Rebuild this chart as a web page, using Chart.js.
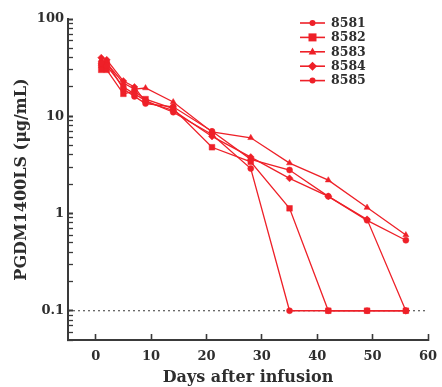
<!DOCTYPE html>
<html><head><meta charset="utf-8">
<script src="https://cdn.jsdelivr.net/npm/chart.js@4.4.0/dist/chart.umd.min.js"></script>
<style>html,body{margin:0;padding:0;background:#fff}#wrap{width:442px;height:387px}</style>
</head><body><div id="wrap"><canvas id="c" width="442" height="387"></canvas></div>
<script>
const days = [1, 2, 5, 7, 9, 14, 21, 28, 35, 42, 49, 56];
const seriesNames = ['8581', '8582', '8583', '8584', '8585'];
const s8581 = [35, 33, 20, 17, 14.5, 11, 6.5, 2.9, 0.1, 0.1, 0.1, 0.1];
const s8582 = [30, 30, 17, 18, 15, 12, 4.8, 3.4, 1.13, 0.1, 0.1, 0.1];
const s8583 = [38, 35, 22, 19, 19.5, 14, 6.9, 6.0, 3.3, 2.2, 1.15, 0.6];
const s8584 = [40, 38, 23, 20, 14, 11.5, 6.2, 3.8, 2.3, 1.5, 0.87, 0.1];
const s8585 = [33, 36, 19, 16, 13.5, 12.5, 7.0, 3.6, 2.8, 1.5, 0.85, 0.53];
const seriesValues = [s8581, s8582, s8583, s8584, s8585];
const lloqValue = 0.1;
const lloqDays = [-5, 60];
const xTickValues = [0, 10, 20, 30, 40, 50, 60];
const yMajorTicks = [0.1, 1, 10, 100];
const yMinorTicks = [0.05, 0.06, 0.07, 0.08, 0.09, 0.2, 0.3, 0.4, 0.5, 0.6, 0.7, 0.8, 0.9,
  2, 3, 4, 5, 6, 7, 8, 9, 20, 30, 40, 50, 60, 70, 80, 90];
const yTickValues = yMajorTicks.concat(yMinorTicks).sort((a, b) => a - b);

const RED = 'rgb(238,32,40)';
const AXIS = '#3a3a3a';
const TEXT = '#2e2e2e';
const FONT = "'DejaVu Serif', 'Liberation Serif', serif";
const pointStyles = ['circle', 'rect', 'triangle', 'rectRot', 'circle'];
const pointRadii = [3, 4, 3.5, 3.5, 3];

const datasets = seriesNames.map((name, i) => ({
  label: name,
  data: days.map((d, j) => ({ x: d, y: seriesValues[i][j] })),
  borderColor: RED,
  backgroundColor: RED,
  borderWidth: 1.3,
  pointStyle: pointStyles[i],
  pointRadius: pointRadii[i],
  pointBackgroundColor: RED,
  pointBorderColor: RED,
  pointBorderWidth: 0.5,
  tension: 0,
  order: 1
}));
datasets.push({
  label: '',
  data: lloqDays.map(d => ({ x: d, y: lloqValue })),
  borderColor: AXIS,
  borderWidth: 1.2,
  borderDash: [2, 3],
  pointRadius: 0,
  order: 10
});

function drawMarker(ctx, style, r, x, y) {
  ctx.beginPath();
  if (style === 'rect') {
    ctx.rect(x - r, y - r, 2 * r, 2 * r);
  } else if (style === 'triangle') {
    ctx.moveTo(x, y - r * 1.2); ctx.lineTo(x + r * 1.1, y + r * 0.8); ctx.lineTo(x - r * 1.1, y + r * 0.8); ctx.closePath();
  } else if (style === 'rectRot') {
    ctx.moveTo(x, y - r * 1.3); ctx.lineTo(x + r * 1.3, y); ctx.lineTo(x, y + r * 1.3); ctx.lineTo(x - r * 1.3, y); ctx.closePath();
  } else {
    ctx.arc(x, y, r, 0, Math.PI * 2);
  }
  ctx.fill();
}

const legendPlugin = {
  id: 'legendPlugin',
  afterDraw(chart) {
    const ctx = chart.ctx;
    ctx.save();
    ctx.setLineDash([]);
    const x0 = 300, x1 = 325, y0 = 23, dy = 14.4;
    seriesNames.forEach((name, i) => {
      const y = y0 + i * dy;
      ctx.strokeStyle = RED; ctx.lineWidth = 1.6;
      ctx.beginPath(); ctx.moveTo(x0, y); ctx.lineTo(x1, y); ctx.stroke();
      ctx.fillStyle = RED;
      drawMarker(ctx, pointStyles[i], pointRadii[i], (x0 + x1) / 2, y);
      ctx.fillStyle = TEXT;
      ctx.font = 'bold 12.5px ' + FONT;
      ctx.textBaseline = 'middle'; ctx.textAlign = 'left';
      ctx.fillText(name, x1 + 6, y + 0.5);
    });
    ctx.restore();
  }
};

new Chart(document.getElementById('c'), {
  type: 'line',
  data: { datasets },
  options: {
    responsive: false,
    animation: false,
    devicePixelRatio: 1,
    layout: { padding: { left: 0, top: 19, right: 14, bottom: 0 } },
    plugins: { legend: { display: false }, tooltip: { enabled: false } },
    scales: {
      x: {
        type: 'linear',
        min: -5, max: 60,
        afterBuildTicks(scale) { scale.ticks = xTickValues.map(v => ({ value: v })); },
        afterFit(scale) { scale.height = 47; scale.paddingLeft = 0; scale.paddingRight = 0; },
        grid: { display: true, drawOnChartArea: false, drawTicks: true, tickLength: -6, tickColor: AXIS, tickWidth: 1.6 },
        border: { display: true, color: AXIS, width: 2 },
        ticks: { color: TEXT, font: { family: FONT, size: 13, weight: 'bold' }, padding: 15, autoSkip: false, maxRotation: 0 },
        title: { display: true, text: 'Days after infusion', color: TEXT, font: { family: FONT, size: 16, weight: 'bold' }, padding: { top: 0, bottom: 0 } }
      },
      y: {
        type: 'logarithmic',
        min: 0.05, max: 100,
        afterBuildTicks(scale) { scale.ticks = yTickValues.map(v => ({ value: v })); },
        afterFit(scale) { scale.width = 68; scale.paddingTop = 0; scale.paddingBottom = 0; },
        grid: {
          display: true, drawOnChartArea: false, drawTicks: true, tickLength: -5, tickColor: AXIS,
          tickWidth: (c) => (c.tick && yMajorTicks.includes(c.tick.value)) ? 2 : 1.3
        },
        border: { display: true, color: AXIS, width: 2 },
        ticks: {
          color: TEXT, font: { family: FONT, size: 13, weight: 'bold' }, padding: 9, autoSkip: false,
          callback: (v) => yMajorTicks.includes(v) ? String(v) : ''
        },
        title: { display: true, text: 'PGDM1400LS (μg/mL)', color: TEXT, font: { family: FONT, size: 16, weight: 'bold' }, padding: { top: 12, bottom: 0 } }
      }
    }
  },
  plugins: [legendPlugin]
});
</script>
</body></html>
